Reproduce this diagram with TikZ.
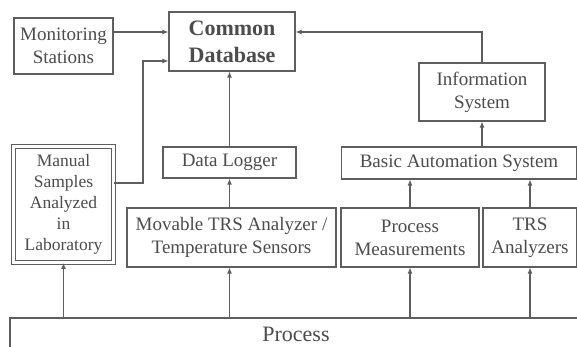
\documentclass[tikz,border=0pt]{standalone}
\usepackage{fontspec}
\setmainfont{Liberation Serif}
\usetikzlibrary{arrows.meta}
\definecolor{ink}{HTML}{4C4C4C}
\definecolor{rule}{HTML}{5E5E5E}

\begin{document}
\begin{tikzpicture}[x=1pt,y=-1pt,
  box/.style={draw=rule,line width=1.1pt,text=ink,align=center,inner sep=0pt,
    font=\fontsize{19}{23}\selectfont},
  arr/.style={-{Latex[length=6pt,width=5pt]},draw=rule,line width=1.1pt}]
\useasboundingbox[fill=white] (0,0) rectangle (577,347);
\node[box,minimum width=99pt,minimum height=56pt] (mon) at (63.5,46) {Monitoring\\Stations};
\node[box,minimum width=126pt,minimum height=59pt,font=\fontsize{22}{27}\selectfont\bfseries] (db) at (232,41.5) {Common\\Database};
\node[box,minimum width=126pt,minimum height=58pt] (info) at (482,92) {Information\\System};
\node[box,double=white,double distance=2.5pt,line width=0.9pt,minimum width=100pt,minimum height=116pt,
  font=\fontsize{17.5}{21}\selectfont] (man) at (63.5,204.5) {Manual\\Samples\\Analyzed\\in\\Laboratory};
\node[box,minimum width=133pt,minimum height=31pt] (logger) at (229.5,162.5) {Data Logger};
\node[box,minimum width=235pt,minimum height=32pt] (bas) at (459,163) {Basic Automation System};
\node[box,minimum width=209pt,minimum height=59pt] (mov) at (231.5,237.5) {Movable TRS Analyzer /\\Temperature Sensors};
\node[box,minimum width=138pt,minimum height=59pt] (pm) at (410,237.5) {Process\\Measurements};
\node[box,minimum width=94pt,minimum height=59pt] (trs) at (530,237.5) {TRS\\Analyzers};
\node[box,minimum width=572pt,minimum height=32pt,font=\fontsize{22}{26}\selectfont] (proc) at (296,334) {Process};
\draw[arr] ([yshift=14pt]mon.east) -- ([yshift=14pt]mon.east -| db.west);
\draw[arr] ([yshift=21.5pt]man.east) -- ++(29,0) |- ([yshift=-19.5pt]db.west);
\draw[arr] (logger.north) -- (logger.north |- db.south);
\draw[arr] (info.north) |- ([yshift=9.5pt]db.east);
\draw[arr] (mov.north -| logger.south) -- (logger.south);
\draw[arr] (info.south |- bas.north) -- (info.south);
\draw[arr] (pm.north) -- (pm.north |- bas.south);
\draw[arr] (trs.north) -- (trs.north |- bas.south);
\draw[arr] (man.south |- proc.north) -- (man.south);
\draw[arr] (logger.south |- proc.north) -- (logger.south |- mov.south);
\draw[arr] (pm.south |- proc.north) -- (pm.south);
\draw[arr] (trs.south |- proc.north) -- (trs.south);
\end{tikzpicture}
\end{document}
